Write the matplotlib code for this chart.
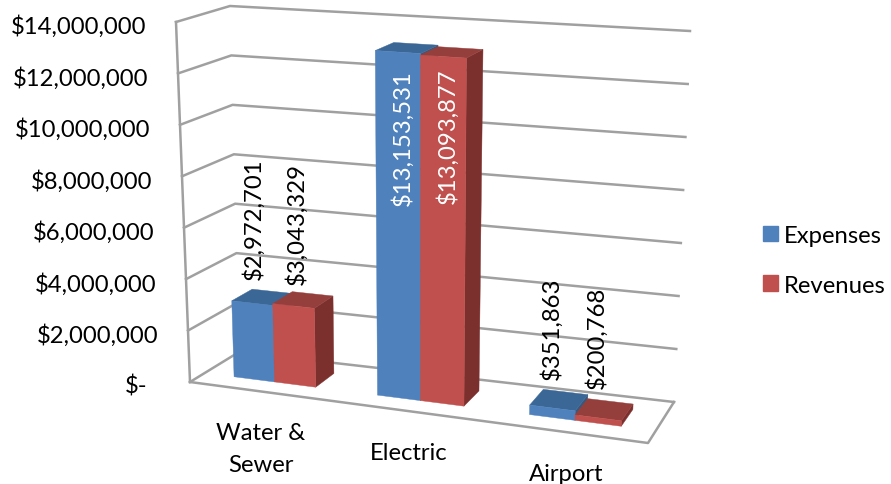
import matplotlib
matplotlib.use('Agg')
import matplotlib.pyplot as plt
from matplotlib.patches import Polygon, Patch

categories = ['Water &\nSewer', 'Electric', 'Airport']
expenses = [2972701, 13153531, 351863]
revenues = [3043329, 13093877, 200768]
axis_ticks = [0, 2000000, 4000000, 6000000, 8000000, 10000000, 12000000, 14000000]
axis_max = 14000000

plt.rcParams['font.family'] = ['Lato', 'DejaVu Sans']

# chart box corners on the canvas, floor and ceiling, front and back
floor_fl, floor_fr = (190, 383), (648, 444)
floor_bl, floor_br = (239, 353), (674, 403)
top_fl, top_fr = (176, 23), (661, 54)
top_bl, top_br = (230, 7), (690, 32)

GRID = '#a0a0a0'
BLUE = ('#4f81bd', '#3b6796', '#35597f')
RED = ('#c0504d', '#953f3c', '#7c302e')
FONT = 17.2


def mix(p, q, t):
    return (p[0] + (q[0] - p[0]) * t, p[1] + (q[1] - p[1]) * t)


def warp(t):
    # the right end of the box sits nearer the viewer
    k = 0.084
    return t * (1 - k) / (1 - k * t)


def project(t, depth, value):
    u = warp(t)
    w = value / axis_max
    low = mix(mix(floor_fl, floor_fr, u), mix(floor_bl, floor_br, u), depth)
    high = mix(mix(top_fl, top_fr, u), mix(top_bl, top_br, u), depth)
    return mix(low, high, w)


def draw_bar(ax, t0, t1, value, colors, z):
    front, top, side = colors
    v0, v1 = 0.3, 0.72
    a = project(t0, v0, 0)
    b = project(t1, v0, 0)
    c = project(t1, v0, value)
    d = project(t0, v0, value)
    e = project(t1, v1, 0)
    f = project(t1, v1, value)
    g = project(t0, v1, value)
    ax.add_patch(Polygon([b, e, f, c], fc=side, ec=side, lw=0.3, zorder=z))
    ax.add_patch(Polygon([d, c, f, g], fc=top, ec=top, lw=0.3, zorder=z))
    ax.add_patch(Polygon([a, b, c, d], fc=front, ec=front, lw=0.3, zorder=z))


fig = plt.figure(figsize=(8.91, 4.85), dpi=100)
ax = fig.add_axes([0, 0, 1, 1])
ax.set_xlim(0, 891)
ax.set_ylim(485, 0)
ax.axis('off')

# gridlines run along the left wall and then the back wall
for tick in axis_ticks:
    p0 = project(0, 0, tick)
    p1 = project(0, 1, tick)
    p2 = project(1, 1, tick)
    ax.plot([p0[0], p1[0], p2[0]], [p0[1], p1[1], p2[1]], color=GRID, lw=1.8, zorder=1)
    label = '$-' if tick == 0 else '${:,}'.format(tick)
    shift = 43 if tick == 0 else 30
    ax.text(p0[0] - shift, p0[1] + 4, label, ha='right', va='center', fontsize=FONT, color='black')

# front edge, right edge of the floor and the front left upright
xs = [floor_fl[0], floor_fr[0], floor_br[0]]
ys = [floor_fl[1], floor_fr[1], floor_br[1]]
ax.plot(xs, ys, color=GRID, lw=1.8, zorder=1)
ax.plot([floor_fl[0], top_fl[0]], [floor_fl[1], top_fl[1]], color=GRID, lw=1.8, zorder=1)

half = 0.096
label_dx = [[-8, -6], [-4, -4], [-7, -8]]
label_dy = [[-18, -16], [21, 15], [-21, -22]]
for i, name in enumerate(categories):
    mid = (i + 0.5) / len(categories)
    draw_bar(ax, mid - half, mid, expenses[i], BLUE, 2 + i)
    draw_bar(ax, mid, mid + half, revenues[i], RED, 2 + i)

    for j, value in enumerate([expenses[i], revenues[i]]):
        tc = mid - half / 2 if j == 0 else mid + half / 2
        px, py = project(tc, 0.5, value)
        inside = value > 10000000
        ax.text(px + label_dx[i][j], py + label_dy[i][j], '${:,}'.format(value),
                rotation=90, ha='center', va='top' if inside else 'bottom', fontsize=FONT,
                color='white' if inside else 'black', zorder=10)

    ex, ey = project(mid, 0, 0)
    ax.text(ex, ey + 31, name, ha='center', va='top', fontsize=FONT, linespacing=1.62, color='black')

handles = [Patch(fc=BLUE[0], ec=BLUE[0]), Patch(fc=RED[0], ec=RED[0])]
ax.legend(handles, ['Expenses', 'Revenues'], loc='upper left', bbox_to_anchor=(758, 221),
          bbox_transform=ax.transData, frameon=False, fontsize=FONT, handlelength=0.63,
          handleheight=0.63, handletextpad=0.24, labelspacing=1.21, borderpad=0.2, borderaxespad=0)

fig.savefig('out.png', dpi=100)
